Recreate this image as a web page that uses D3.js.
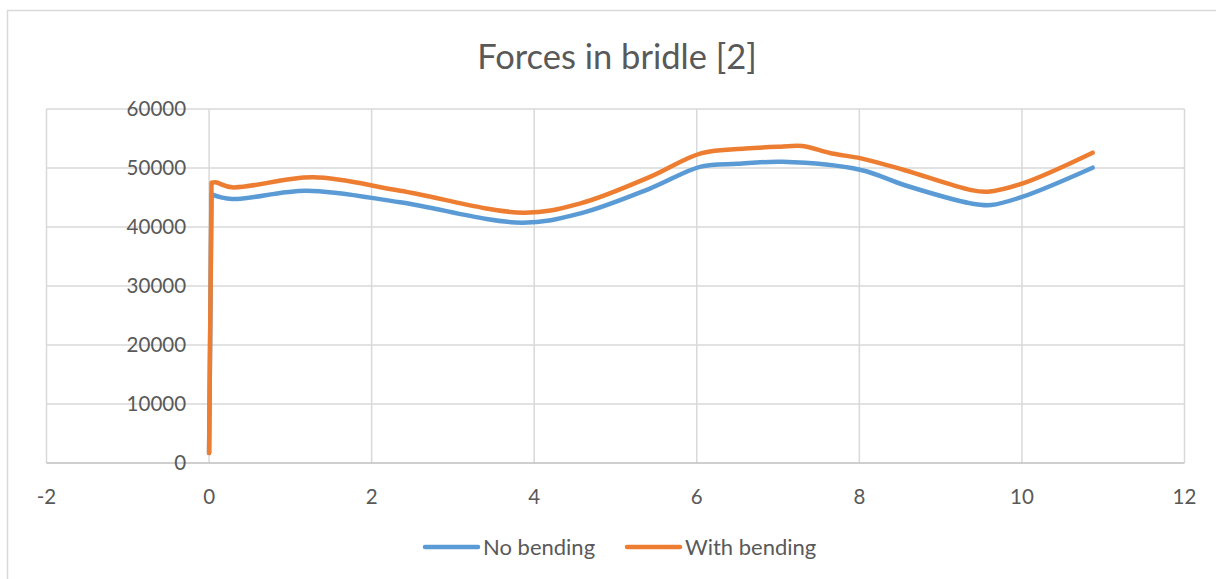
<!DOCTYPE html>
<html>
<head>
<meta charset="utf-8">
<script src="https://cdn.jsdelivr.net/npm/d3@7"></script>
<style>
  html, body { margin: 0; padding: 0; background: #ffffff; }
  svg { display: block; }
  text { font-family: Lato, "Open Sans", sans-serif; fill: #595959; }
</style>
</head>
<body>
<script>
// Bridle force over time, with and without bending
const titleText = "Forces in bridle [2]";
const xTicks = [-2, 0, 2, 4, 6, 8, 10, 12];
const yTicks = [0, 10000, 20000, 30000, 40000, 50000, 60000];

const noBendX = [0, 0.03, 0.28, 1.2, 2.35, 3.85, 4.57, 5.43, 6.05, 6.5, 7.05, 8.02, 8.55, 9.37, 9.62, 10.01, 10.87];
const noBendY = [1700, 45540, 44750, 46150, 44190, 40730, 42320, 46560, 50230, 50700, 51050, 49660, 47120, 44010, 43730, 45140, 50050];

const withBendX = [0, 0.03, 0.08, 0.28, 1.28, 2.35, 3.87, 4.57, 5.43, 6.05, 6.6, 7.03, 7.3, 7.65, 8.02, 8.55, 9.37, 9.58, 10.01, 10.87];
const withBendY = [1700, 47500, 47570, 46730, 48420, 46150, 42430, 44010, 48530, 52490, 53300, 53620, 53730, 52490, 51640, 49660, 46270, 45990, 47400, 52600];

const seriesNames = ["No bending", "With bending"];
const seriesColors = ["#5B9BD5", "#ED7D31"];

const W = 1216, H = 579;
const svg = d3.select("body").append("svg").attr("width", W).attr("height", H);

// chart frame
svg.append("rect")
  .attr("x", 7.5).attr("y", 10.5).attr("width", W + 20).attr("height", H + 20)
  .attr("fill", "none").attr("stroke", "#D9D9D9").attr("stroke-width", 1.5);

const x = d3.scaleLinear().domain([-2, 12]).range([46.5, 1184.5]);
const y = d3.scaleLinear().domain([0, 60000]).range([463, 109]);

// gridlines
const grid = svg.append("g");
grid.selectAll("line.h").data(yTicks.filter(d => d !== 0)).join("line")
  .attr("x1", x(-2)).attr("x2", x(12))
  .attr("y1", d => y(d)).attr("y2", d => y(d))
  .attr("stroke", "#D9D9D9").attr("stroke-width", 1.5);
grid.selectAll("line.v").data(xTicks).join("line")
  .attr("x1", d => x(d)).attr("x2", d => x(d))
  .attr("y1", y(60000)).attr("y2", y(0))
  .attr("stroke", "#D9D9D9").attr("stroke-width", 1.5);

// horizontal axis line at zero
svg.append("line")
  .attr("x1", x(-2)).attr("x2", x(12)).attr("y1", y(0)).attr("y2", y(0))
  .attr("stroke", "#BFBFBF").attr("stroke-width", 1.5);

// y tick labels, placed beside the value axis that crosses at x = 0
svg.append("g").selectAll("text").data(yTicks).join("text")
  .attr("x", x(0) - 23).attr("y", d => y(d))
  .attr("dy", "0.36em").attr("text-anchor", "end")
  .style("font-size", "20.5px")
  .text(d => d);

// x tick labels
svg.append("g").selectAll("text").data(xTicks).join("text")
  .attr("x", d => x(d)).attr("y", 497)
  .attr("dy", "0.36em").attr("text-anchor", "middle")
  .style("font-size", "20.5px")
  .text(d => d);

// title
svg.append("text")
  .attr("x", 617).attr("y", 57).attr("dy", "0.36em")
  .attr("text-anchor", "middle")
  .style("font-size", "34.5px")
  .text(titleText);

// series lines: the initial load-up step is drawn straight, the rest smoothed
const smooth = d3.line()
  .x(d => x(d[0])).y(d => y(d[1]))
  .curve(d3.curveCatmullRom.alpha(0.5));
const seriesPath = pts => {
  const head = `M${x(pts[0][0])},${y(pts[0][1])}`;
  const rest = smooth(pts.slice(1)).replace(/^M/, "L");
  return head + rest;
};

const series = [
  d3.zip(noBendX, noBendY),
  d3.zip(withBendX, withBendY)
];
svg.append("g").selectAll("path").data(series).join("path")
  .attr("d", seriesPath)
  .attr("fill", "none")
  .attr("stroke", (d, i) => seriesColors[i])
  .attr("stroke-width", 4.5)
  .attr("stroke-linecap", "round")
  .attr("stroke-linejoin", "round");

// legend
const legendX = [425, 627];
const lg = svg.append("g").selectAll("g").data(seriesNames).join("g")
  .attr("transform", (d, i) => `translate(${legendX[i]},547)`);
lg.append("line")
  .attr("x1", 0).attr("x2", 53).attr("y1", 0).attr("y2", 0)
  .attr("stroke", (d, i) => seriesColors[i]).attr("stroke-width", 4.5)
  .attr("stroke-linecap", "round");
lg.append("text")
  .attr("x", 58).attr("y", 0).attr("dy", "0.36em")
  .style("font-size", "22px")
  .text(d => d);
</script>
</body>
</html>
